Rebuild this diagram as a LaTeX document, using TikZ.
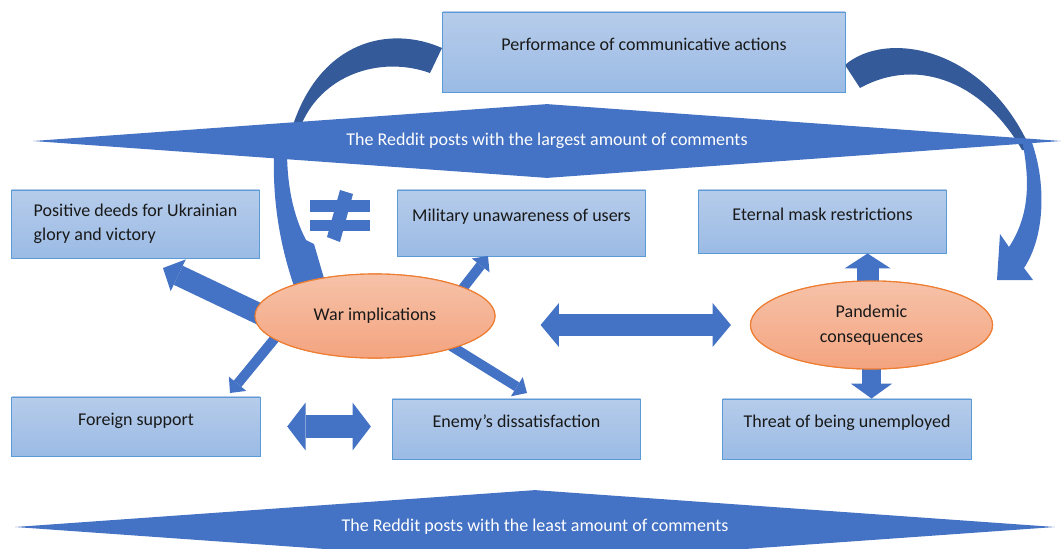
\documentclass[tikz,border=0pt]{standalone}
\usepackage{fontspec}
\setmainfont{Carlito}
\usetikzlibrary{arrows.meta,shapes.geometric}

\definecolor{boxtop}{HTML}{B6CCEA}
\definecolor{boxbot}{HTML}{9BBBE5}
\definecolor{boxline}{HTML}{5B9BD5}
\definecolor{ovaltop}{HTML}{F6C2A9}
\definecolor{ovalbot}{HTML}{F4A47F}
\definecolor{ovalline}{HTML}{ED7D31}
\definecolor{arrowblue}{HTML}{4472C4}
\definecolor{arrowdark}{HTML}{345A9A}

\begin{document}
\begin{tikzpicture}[x=0.025cm, y=-0.025cm]
	\tikzset{box/.style = {rectangle, draw=boxline, line width=0.7pt, top color=boxtop, bottom color=boxbot, minimum width=6.2cm, minimum height=1.5cm, inner sep=0pt, text=black!90, font=\fontsize{12.8}{17}\selectfont}}
	\tikzset{uptext/.style = {text height=9pt, text depth=11pt}}
	\tikzset{oval/.style = {ellipse, draw=ovalline, line width=0.8pt, top color=ovaltop, bottom color=ovalbot, inner sep=0pt, align=center, text=black!90, font=\fontsize{12.8}{17.5}\selectfont}}
	\tikzset{banner/.style = {diamond, fill=arrowblue, inner sep=0pt, text=white, font=\fontsize{12.8}{17}\selectfont}}
	\tikzset{fatarrow/.style = {draw=arrowblue, line width=15pt, -{Triangle[length=12pt, width=25pt, line width=0pt]}}}
	\tikzset{thinarrow/.style = {draw=arrowblue, line width=7pt, -{Triangle[length=8.5pt, width=16pt, line width=0pt]}}}
	\tikzset{stubarrow/.style = {draw=arrowblue, line width=#1, -{Triangle[length=10.6pt, width=2.1*#1, line width=0pt]}}}
	\tikzset{twoway/.style = {draw=arrowblue, line width=#1, {Triangle[length=13pt, width=2*#1, line width=0pt]}-{Triangle[length=13pt, width=2*#1, line width=0pt]}}}
	\useasboundingbox (0,0) rectangle (1061,548);
	\clip (0,0) rectangle (1061,548);
	% back halves of the curved arrows
	\fill[arrowdark] (442,48) .. controls (390,25) and (320,40) .. (292,128) -- (300,128) .. controls (320,75) and (380,55) .. (430,73) -- cycle;
	\fill[arrowdark] (845,65) .. controls (885,30) and (985,45) .. (1031,150) -- (1022,150) .. controls (985,85) and (920,55) .. (860,88) -- cycle;
	% banners
	\node[banner, minimum width=25.7cm, minimum height=1.85cm, aspect=13.9] (most) at (547,141) {The Reddit posts with the largest amount of comments};
	\node[banner, minimum width=26cm, minimum height=1.85cm, aspect=14] (least) at (535,527) {The Reddit posts with the least amount of comments};
	% front halves
	\fill[arrowblue] (274,150) .. controls (272,210) and (283,255) .. (296,292) -- (328,292) -- (314,244) -- (306,240) .. controls (293,215) and (287,185) .. (287,150) -- cycle;
	\fill[arrowblue] (1022,140) .. controls (1030,180) and (1030,215) .. (1009,247) -- (1000,234) -- (997,280) -- (1033,280) -- (1024,268) .. controls (1046,235) and (1046,180) .. (1031,140) -- cycle;
	% boxes
	\node[box, uptext, minimum width=10.05cm, minimum height=2cm] (perf) at (644,52) {Performance of communicative actions};
	\node[box, minimum height=1.7cm, align=left] (pos) at (135.5,224) {Positive deeds for Ukrainian\\glory and victory};
	\node[box, uptext, minimum height=1.65cm] (mil) at (521.5,223) {Military unawareness of users};
	\node[box, uptext, minimum height=1.575cm] (mask) at (822.5,221.5) {Eternal mask restrictions};
	\node[box, uptext, minimum height=1.475cm] (foreign) at (136,426.5) {Foreign support};
	\node[box, uptext] (enemy) at (516.5,429) {Enemy’s dissatisfaction};
	\node[box, uptext] (threat) at (847,429) {Threat of being unemployed};
	\coordinate (posTip) at (163,268);
	\coordinate (forTip) at (230,393);
	\coordinate (milTip) at (488,256);
	\coordinate (eneTip) at (527,393);
	% ellipse positions first, so the arrows can start from them
	\path (375,316) coordinate (warc) (871.5,325) coordinate (pandc);
	\node[oval, minimum width=6cm, minimum height=2.1cm] (war) at (warc) {};
	\node[oval, minimum width=6.05cm, minimum height=2.2cm] (pand) at (pandc) {};
	% block arrows
	\draw[fatarrow, shorten <=-8pt] (war.178) -- (posTip);
	\draw[thinarrow, shorten <=-6pt] (war.193) -- (forTip);
	\draw[thinarrow, shorten <=-6pt] (war.18) -- (milTip);
	\draw[thinarrow, shorten <=-6pt] (war.338) -- (eneTip);
	\draw[twoway=17pt, shorten <=19pt, shorten >=15pt] (foreign.east) -- (foreign.east -| enemy.west);
	\draw[twoway=15.6pt, shorten <=32pt, shorten >=13.5pt] (war.east |- pand.west) -- (pand.west);
	\draw[stubarrow=15.6pt, shorten <=-6pt] (pand.95) -- (pand.95 |- mask.south);
	\draw[stubarrow=14pt, shorten <=-6pt] (pand.south) -- (pand.south |- threat.north);
	% ellipses on top
	\node[oval, minimum width=6cm, minimum height=2.1cm] (war) at (warc) {War implications};
	\node[oval, minimum width=6.05cm, minimum height=2.2cm] (pand) at (pandc) {Pandemic\\consequences};
	% not equal sign
	\fill[arrowblue] (310,200) rectangle (370,212);
	\fill[arrowblue] (310,220) rectangle (370,231);
	\fill[arrowblue] (340,190) -- (353,194) -- (340,242) -- (327,237) -- cycle;
\end{tikzpicture}
\end{document}
